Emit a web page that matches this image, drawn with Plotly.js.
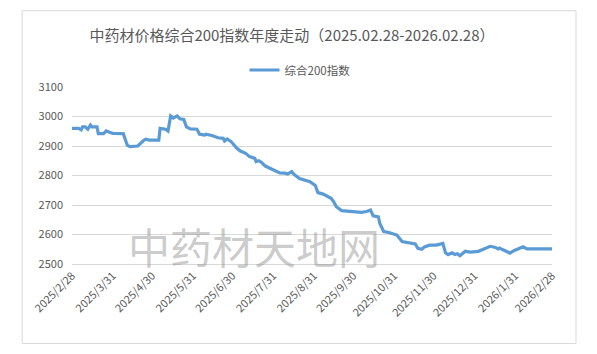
<!DOCTYPE html>
<html>
<head>
<meta charset="utf-8">
<script src="https://cdn.plot.ly/plotly-3.0.1.min.js"></script>
<style>html,body{margin:0;padding:0;background:#fff;}#chart{width:597px;height:354px;}</style>
</head>
<body>
<div id="chart"></div>
<script>
const seriesName = '综合200指数';
const chartTitle = '中药材价格综合200指数年度走动（2025.02.28-2026.02.28）';
const watermark = '中药材天地网';

const dates = [
  '2025-02-28','2025-03-05','2025-03-07','2025-03-08','2025-03-10','2025-03-12','2025-03-14','2025-03-15','2025-03-19','2025-03-20',
  '2025-03-24','2025-03-26','2025-03-29','2025-03-31','2025-04-08','2025-04-11','2025-04-13','2025-04-19','2025-04-23','2025-04-25',
  '2025-04-28','2025-05-05','2025-05-06','2025-05-10','2025-05-12','2025-05-14','2025-05-16','2025-05-19','2025-05-21','2025-05-24',
  '2025-05-26','2025-05-29','2025-06-03','2025-06-05','2025-06-09','2025-06-10','2025-06-15','2025-06-19','2025-06-23','2025-06-24',
  '2025-06-26','2025-06-29','2025-07-03','2025-07-06','2025-07-10','2025-07-13','2025-07-17','2025-07-18','2025-07-20','2025-07-22',
  '2025-07-25','2025-07-29','2025-08-01','2025-08-05','2025-08-09','2025-08-11','2025-08-14','2025-08-16','2025-08-20','2025-08-24',
  '2025-08-28','2025-09-01','2025-09-03','2025-09-07','2025-09-10','2025-09-13','2025-09-15','2025-09-17','2025-09-21','2025-09-27',
  '2025-10-06','2025-10-10','2025-10-13','2025-10-15','2025-10-19','2025-10-20','2025-10-23','2025-10-27','2025-11-02','2025-11-06',
  '2025-11-12','2025-11-16','2025-11-18','2025-11-21','2025-11-23','2025-11-27','2025-12-02','2025-12-07','2025-12-09','2025-12-11',
  '2025-12-14','2025-12-16','2025-12-18','2025-12-20','2025-12-24','2025-12-28','2026-01-03','2026-01-07','2026-01-12','2026-01-16',
  '2026-01-18','2026-01-19','2026-01-27','2026-01-30','2026-02-02','2026-02-06','2026-02-09','2026-02-28'
];
const values = [
  2960,2960,2955,2965,2965,2957,2971,2965,2965,2942,
  2942,2951,2946,2943,2942,2903,2898,2900,2917,2923,
  2920,2920,2960,2957,2951,3002,2995,3002,2992,2990,
  2965,2958,2957,2940,2937,2940,2935,2928,2926,2917,
  2924,2915,2894,2883,2875,2864,2858,2847,2850,2845,
  2832,2824,2819,2809,2808,2805,2813,2803,2790,2785,
  2779,2766,2742,2737,2730,2723,2711,2694,2681,2678,
  2675,2678,2683,2663,2660,2638,2610,2607,2598,2576,
  2572,2568,2553,2550,2558,2564,2564,2570,2538,2532,
  2538,2532,2535,2528,2543,2540,2543,2551,2560,2556,
  2551,2554,2537,2545,2551,2558,2551,2551
];

const tickDates = ['2025-02-28','2025-03-31','2025-04-30','2025-05-31','2025-06-30','2025-07-31','2025-08-31',
  '2025-09-30','2025-10-31','2025-11-30','2025-12-31','2026-01-31','2026-02-28'];
const tickLabels = ['2025/2/28','2025/3/31','2025/4/30','2025/5/31','2025/6/30','2025/7/31','2025/8/31',
  '2025/9/30','2025/10/31','2025/11/30','2025/12/31','2026/1/31','2026/2/28'];

const FONT = '"Noto Sans CJK SC", "Noto Sans", sans-serif';
const GREY = '#595959';

const trace = {
  x: dates, y: values, type: 'scatter', mode: 'lines', name: seriesName,
  line: {color: '#5b9bd5', width: 3.2}
};

const layout = {
  width: 597, height: 354,
  margin: {l: 72, r: 45, t: 87, b: 90},
  paper_bgcolor: '#ffffff', plot_bgcolor: '#ffffff',
  font: {family: FONT, color: GREY, size: 11},
  title: {text: chartTitle, x: 0.489, xref: 'container', y: 0.9, yref: 'container',
          xanchor: 'center', yanchor: 'middle', font: {family: FONT, size: 15, color: GREY}},
  showlegend: true,
  legend: {orientation: 'h', x: 0.475, xanchor: 'center', y: 1.096, yanchor: 'middle',
           font: {family: FONT, size: 11.5, color: GREY}, itemwidth: 30, bgcolor: 'rgba(0,0,0,0)'},
  xaxis: {
    type: 'date', range: ['2025-02-28', '2026-02-28'],
    tickmode: 'array', tickvals: tickDates, ticktext: tickLabels, tickangle: -45,
    showgrid: false, zeroline: false, showline: true, linecolor: '#d9d9d9', linewidth: 1,
    ticks: '', tickfont: {family: FONT, size: 11, color: GREY}
  },
  yaxis: {
    range: [2500, 3100], dtick: 100, tick0: 2500,
    showgrid: true, gridcolor: '#d9d9d9', gridwidth: 1, zeroline: false, showline: false,
    ticks: '', ticklabelstandoff: 8, tickfont: {family: FONT, size: 11, color: GREY}
  },
  shapes: [{
    type: 'rect', xref: 'paper', yref: 'paper',
    x0: -0.104, x1: 1.05, y0: -0.449, y1: 1.431,
    line: {color: '#d9d9d9', width: 1}, fillcolor: 'rgba(0,0,0,0)', layer: 'below'
  }],
  annotations: [{
    text: watermark, xref: 'paper', yref: 'paper',
    x: (253.5 - 72) / 480, y: (264 - 245) / 177, xanchor: 'center', yanchor: 'middle',
    showarrow: false, font: {family: FONT, size: 42, color: 'rgba(140,140,140,0.45)'}
  }]
};

Plotly.newPlot('chart', [trace], layout, {displayModeBar: false, staticPlot: true});
</script>
</body>
</html>
